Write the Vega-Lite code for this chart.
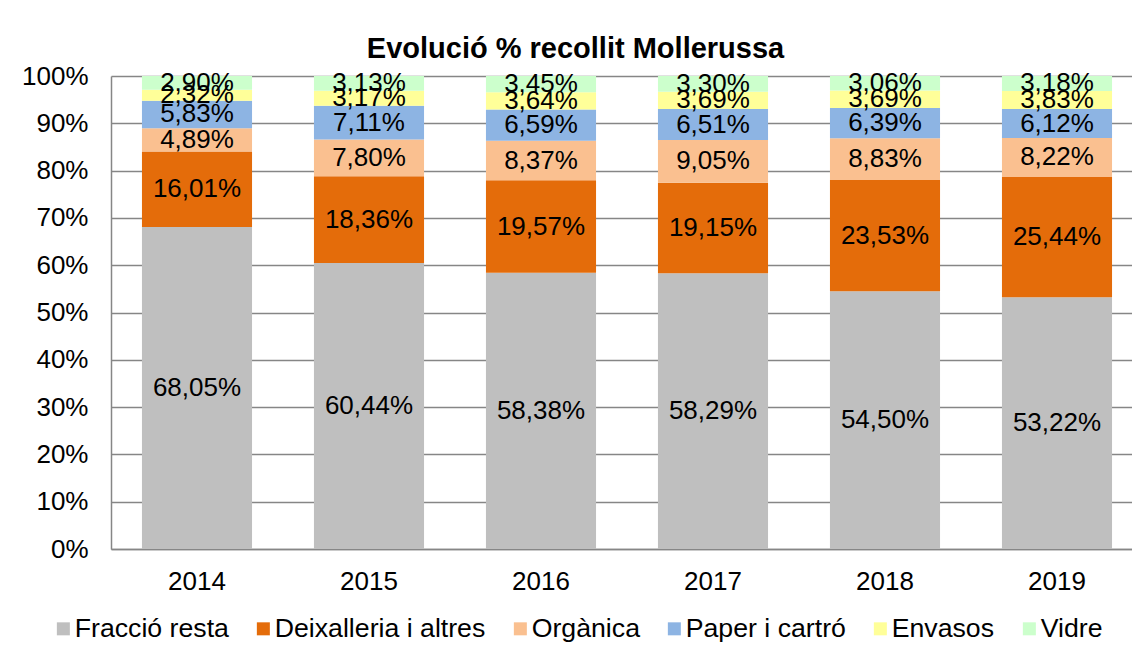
{
  "$schema": "https://vega.github.io/schema/vega-lite/v6.json",
  "autosize": {"type": "none"},
  "padding": {"left": 111, "top": 76, "right": 0, "bottom": 103},
  "width": 1021,
  "height": 473,
  "background": "white",
  "title": {
    "text": "Evolució % recollit Mollerussa",
    "font": "Liberation Sans",
    "fontSize": 29,
    "fontWeight": "bold",
    "color": "black",
    "anchor": "middle",
    "dx": -46,
    "offset": -1
  },
  "data": {
    "values": [
      {"year": "2014", "c": "Fracció resta", "v": 68.05},
      {"year": "2014", "c": "Deixalleria i altres", "v": 16.01},
      {"year": "2014", "c": "Orgànica", "v": 4.89},
      {"year": "2014", "c": "Paper i cartró", "v": 5.83},
      {"year": "2014", "c": "Envasos", "v": 2.32},
      {"year": "2014", "c": "Vidre", "v": 2.90},
      {"year": "2015", "c": "Fracció resta", "v": 60.44},
      {"year": "2015", "c": "Deixalleria i altres", "v": 18.36},
      {"year": "2015", "c": "Orgànica", "v": 7.80},
      {"year": "2015", "c": "Paper i cartró", "v": 7.11},
      {"year": "2015", "c": "Envasos", "v": 3.17},
      {"year": "2015", "c": "Vidre", "v": 3.13},
      {"year": "2016", "c": "Fracció resta", "v": 58.38},
      {"year": "2016", "c": "Deixalleria i altres", "v": 19.57},
      {"year": "2016", "c": "Orgànica", "v": 8.37},
      {"year": "2016", "c": "Paper i cartró", "v": 6.59},
      {"year": "2016", "c": "Envasos", "v": 3.64},
      {"year": "2016", "c": "Vidre", "v": 3.45},
      {"year": "2017", "c": "Fracció resta", "v": 58.29},
      {"year": "2017", "c": "Deixalleria i altres", "v": 19.15},
      {"year": "2017", "c": "Orgànica", "v": 9.05},
      {"year": "2017", "c": "Paper i cartró", "v": 6.51},
      {"year": "2017", "c": "Envasos", "v": 3.69},
      {"year": "2017", "c": "Vidre", "v": 3.30},
      {"year": "2018", "c": "Fracció resta", "v": 54.50},
      {"year": "2018", "c": "Deixalleria i altres", "v": 23.53},
      {"year": "2018", "c": "Orgànica", "v": 8.83},
      {"year": "2018", "c": "Paper i cartró", "v": 6.39},
      {"year": "2018", "c": "Envasos", "v": 3.69},
      {"year": "2018", "c": "Vidre", "v": 3.06},
      {"year": "2019", "c": "Fracció resta", "v": 53.22},
      {"year": "2019", "c": "Deixalleria i altres", "v": 25.44},
      {"year": "2019", "c": "Orgànica", "v": 8.22},
      {"year": "2019", "c": "Paper i cartró", "v": 6.12},
      {"year": "2019", "c": "Envasos", "v": 3.83},
      {"year": "2019", "c": "Vidre", "v": 3.18}
    ]
  },
  "transform": [
    {"calculate": "indexof(['Fracció resta','Deixalleria i altres','Orgànica','Paper i cartró','Envasos','Vidre'], datum.c)", "as": "k"},
    {"stack": "v", "groupby": ["year"], "sort": [{"field": "k", "order": "ascending"}], "as": ["v0", "v1"]},
    {"calculate": "(datum.v0 + datum.v1) / 2", "as": "mid"},
    {"calculate": "replace(format(datum.v, '.2f'), '.', ',') + '%'", "as": "lbl"}
  ],
  "encoding": {
    "x": {
      "field": "year",
      "type": "ordinal",
      "scale": {"range": [0, 1032], "paddingInner": 0.36, "paddingOuter": 0.18},
      "axis": {
        "title": null,
        "labelAngle": 0,
        "labelFont": "Liberation Sans",
        "labelFontSize": 26,
        "labelColor": "black",
        "labelPadding": 19,
        "ticks": false,
        "domainColor": "#868686",
        "domainWidth": 1.5,
        "grid": false
      }
    }
  },
  "layer": [
    {
      "mark": {"type": "bar"},
      "encoding": {
        "y": {
          "field": "v0",
          "type": "quantitative",
          "scale": {"domain": [0, 100], "nice": false},
          "axis": {
            "title": null,
            "values": [0, 10, 20, 30, 40, 50, 60, 70, 80, 90, 100],
            "labelExpr": "datum.value + '%'",
            "labelFont": "Liberation Sans",
            "labelFontSize": 26,
            "labelColor": "black",
            "labelPadding": 23,
            "ticks": false,
            "domainColor": "#868686",
            "domainWidth": 1.5,
            "gridColor": "#868686",
            "gridWidth": 1.5
          }
        },
        "y2": {"field": "v1"},
        "color": {
          "field": "c",
          "type": "nominal",
          "scale": {
            "domain": ["Fracció resta", "Deixalleria i altres", "Orgànica", "Paper i cartró", "Envasos", "Vidre"],
            "range": ["#BFBFBF", "#E46C0A", "#FAC090", "#8DB4E3", "#FFFF99", "#CCFFCC"]
          },
          "legend": {
            "title": null,
            "orient": "none",
            "direction": "horizontal",
            "columns": 6,
            "legendX": -61,
            "legendY": 539,
            "symbolType": "square",
            "symbolSize": 169,
            "symbolStrokeWidth": 0,
            "labelFont": "Liberation Sans",
            "labelFontSize": 26.7,
            "labelColor": "black",
            "labelOffset": -2,
            "columnPadding": 21,
            "labelLimit": 400,
            "padding": 0
          }
        }
      }
    },
    {
      "mark": {"type": "text", "font": "Liberation Sans", "fontSize": 26, "color": "black", "baseline": "middle", "align": "center"},
      "encoding": {
        "y": {"field": "mid", "type": "quantitative"},
        "text": {"field": "lbl"}
      }
    }
  ],
  "config": {
    "view": {"stroke": null}
  }
}
